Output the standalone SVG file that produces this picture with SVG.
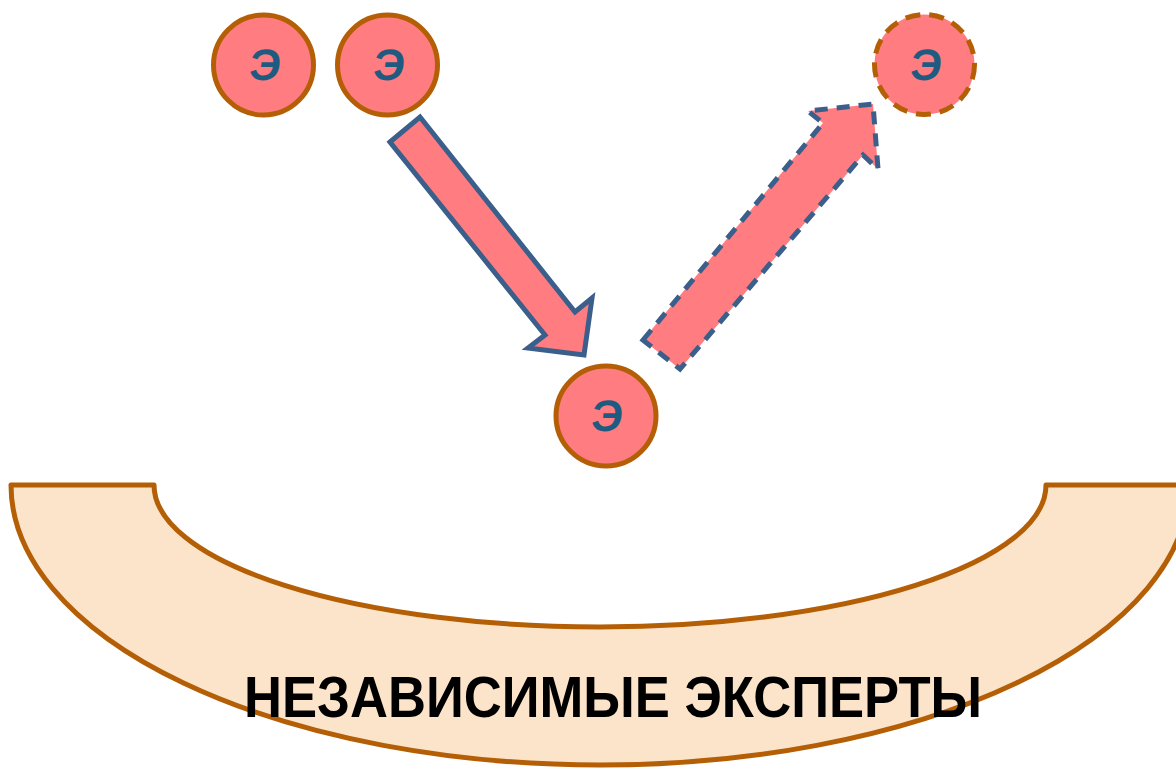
<svg xmlns="http://www.w3.org/2000/svg" width="1176" height="769" viewBox="0 0 1176 769">
<style>
.node{fill:#FF7C80;stroke:#B45F06;stroke-width:5}
.dashed{stroke-dasharray:15 9}
.lbl{font-family:"Liberation Sans",Arial,sans-serif;font-weight:bold;font-size:44px;fill:#1F5A80;text-anchor:middle}
.arrow{fill:#FF7C80;stroke:#3A5F8B;stroke-width:5;stroke-linejoin:miter}
.title{font-family:"Liberation Sans",Arial,sans-serif;font-weight:bold;font-size:57px;fill:#000}
</style>
<rect width="1176" height="769" fill="#fff"/>
<g id="base">
<path d="M11,485 A589,280 0 0 0 1189,485 L1046,485 A446,142 0 0 1 154,485 Z" fill="#FCE4CA" stroke="#B45F06" stroke-width="5" stroke-linejoin="round"/>
<text class="title" x="244" y="717" textLength="738" lengthAdjust="spacingAndGlyphs">НЕЗАВИСИМЫЕ ЭКСПЕРТЫ</text>
</g>
<g id="node1"><circle class="node" cx="263.5" cy="65" r="50"/><text class="lbl" transform="translate(264,80) skewX(-6)">Э</text></g>
<g id="node2"><circle class="node" cx="387.5" cy="65" r="50"/><text class="lbl" transform="translate(388,80) skewX(-6)">Э</text></g>
<g id="node3"><circle class="node dashed" cx="924.5" cy="64.5" r="50"/><text class="lbl" transform="translate(925,80) skewX(-6)">Э</text></g>
<g id="node4"><circle class="node" cx="606" cy="416" r="50"/><text class="lbl" transform="translate(606,431) skewX(-6)">Э</text></g>
<g id="connectors">
<polygon class="arrow" points="390,142 420,117 575,312 592,298 584,355 528,348 545,335"/>
<polygon class="arrow" stroke-dasharray="13 9" points="643,340 823,123 808,111 873,104 878,169 863,155 680,369"/>
</g>
</svg>
